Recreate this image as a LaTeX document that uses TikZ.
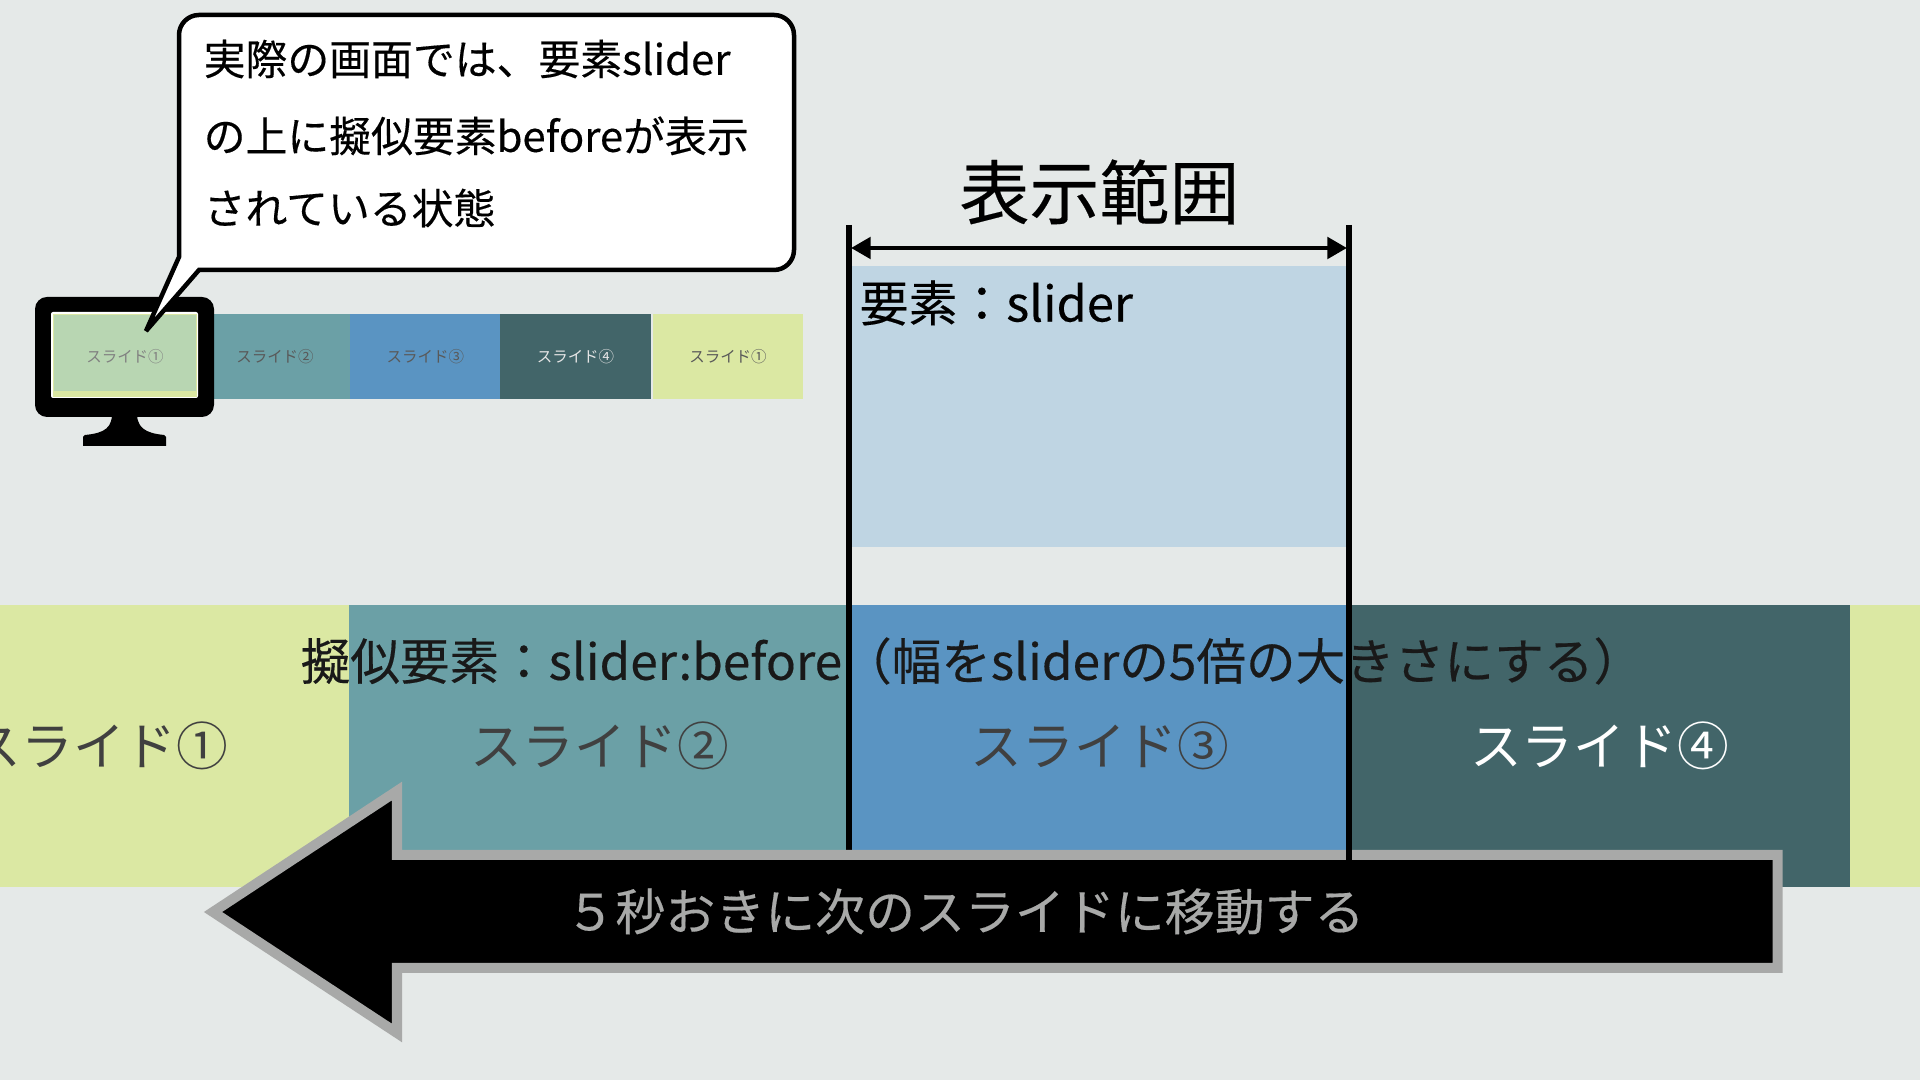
\documentclass[tikz,border=0pt]{standalone}
\usepackage{fontspec}
\setmainfont[FakeBold=0.3]{Noto Sans CJK JP}
\newfontfamily\slidefont{Noto Sans CJK JP}
\usetikzlibrary{arrows.meta}
\definecolor{bgcol}{HTML}{E5E9E8}
\definecolor{yellowcol}{HTML}{DBE8A3}
\definecolor{tealcol}{HTML}{6BA0A6}
\definecolor{bluecol}{HTML}{5A94C2}
\definecolor{darkcol}{HTML}{426569}
\definecolor{slidercol}{HTML}{BFD5E3}
\definecolor{greencol}{HTML}{B8D6B2}
\definecolor{greycol}{HTML}{A8A9A8}
\newcommand{\fsz}[1]{\fontsize{#1}{#1}\selectfont}
\tikzset{
  bigcell/.style={anchor=center, minimum width=5cm, minimum height=2.815cm, inner sep=0pt, text=black!75, font=\slidefont\fsz{14.7pt}},
  smallcell/.style={anchor=center, minimum width=1.5cm, minimum height=0.85cm, inner sep=0pt, text=black!65, font=\slidefont\fsz{4.4pt}},
  bubbletext/.style={anchor=west, inner sep=0pt, font=\fsz{11.9pt}},
  bar/.style={line width=0.052cm}
}
\begin{document}
\begin{tikzpicture}[x=0.01cm,y=-0.01cm]
    \path[use as bounding box,clip] (0,0) rectangle (1920,1080);
    \fill[bgcol] (0,0) rectangle (1920,1080);
    \node[inner sep=0pt, minimum width=5cm, minimum height=2.81cm, fill=slidercol] (slider) at (1099,406.5) {};
    \node[anchor=west, inner sep=0pt, font=\fsz{13.9pt}] (slidertext) at (859,303) {要素：slider};
    \node[inner sep=0pt, font=\fsz{19.9pt}] (range) at (1099.5,192) {表示範囲};
    \node[smallcell, fill=tealcol] (smalltwo) at (275,356.5) {スライド②};
    \node[smallcell, fill=bluecol] (smallthree) at (425.4,356.5) {スライド③};
    \node[smallcell, fill=darkcol, text=white!90!black] (smallfour) at (575.5,356.5) {スライド④};
    \node[smallcell, fill=yellowcol] (smallone) at (728,356.5) {スライド①};
    \node[bigcell, fill=yellowcol] (cellone) at (99,745.8) {スライド①};
    \node[bigcell, fill=tealcol, minimum width=5.02cm] (celltwo) at (600,745.8) {スライド②};
    \node[bigcell, fill=bluecol, minimum width=4.98cm] (cellthree) at (1100,745.8) {スライド③};
    \node[bigcell, fill=darkcol, text=white, minimum width=5.01cm] (cellfour) at (1599.5,745.8) {スライド④};
    \node[bigcell, fill=yellowcol, minimum width=0.7cm] (cellfive) at (1885,745.8) {};
    \node[anchor=west, inner sep=0pt, text=black!90, font=\fsz{14.1pt}] (before) at (300,661) {擬似要素：slider:before（幅をsliderの5倍の大きさにする）};
    \coordinate (lefttop) at (849,225);
    \coordinate (leftend) at (849,850);
    \coordinate (righttop) at (1349,225);
    \coordinate (rightend) at (1349,860);
    \coordinate (arrowleft) at (851,248);
    \coordinate (arrowright) at (1347,248);
    \draw[bar] (lefttop) -- (leftend);
    \draw[line width=0.048cm,<->,>={Stealth[inset=0pt,length=5.6pt,width=6pt]}] (arrowleft) -- (arrowright);
    \draw[draw=greycol, fill=black, line width=0.1cm] (1777.5,855) -- (397,855) -- (397,791) -- (213,912) -- (397,1033) -- (397,968) -- (1777.5,968) -- cycle;
    \node[inner sep=0pt, text=greycol, font=\fsz{14.2pt}] (move) at (965,911.5) {５秒おきに次のスライドに移動する};
    \draw[bar] (righttop) -- (rightend);
    \fill[black, rounded corners=0.12cm] (35,297) rectangle (214,417);
    \fill[black] (112,410) .. controls (113,428) and (105,433) .. (85,435) -- (83,437) -- (83,446) -- (166,446) -- (166,437) -- (164,435) .. controls (145,433) and (136,428) .. (137,410) -- cycle;
    \fill[white, rounded corners=0.02cm] (51,312) rectangle (198,398);
    \fill[yellowcol] (53,314) rectangle (196.5,397);
    \node[anchor=north west, inner sep=0pt, minimum width=1.42cm, minimum height=0.76cm, fill=greencol] (screen) at (53,314) {};
    \node[inner sep=0pt, text=black!50, font=\slidefont\fsz{4.4pt}] (screenlabel) at (125,357) {スライド①};
    \draw[black, line width=0.045cm, miter limit=3, fill=white] (146,331) -- (179,257) -- (179,150) {[rounded corners=0.2cm] -- (179,15) -- (794,15) -- (794,270) -- (400,270)} -- (199,270) -- cycle;
    \node[bubbletext] (lineone) at (203,59) {実際の画面では、要素slider};
    \node[bubbletext] (linetwo) at (203,136) {の上に擬似要素beforeが表示};
    \node[bubbletext] (linethree) at (203,208) {されている状態};
\end{tikzpicture}
\end{document}
